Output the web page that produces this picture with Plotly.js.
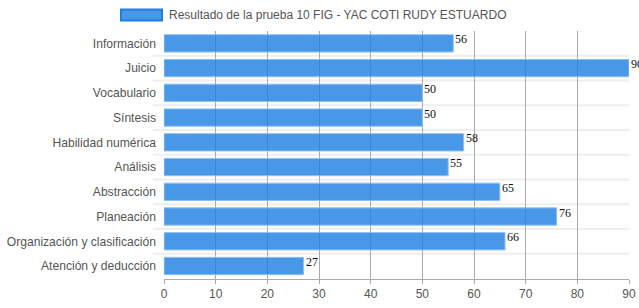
<!DOCTYPE html>
<html><head><meta charset="utf-8">
<script src="https://cdn.plot.ly/plotly-3.0.1.min.js"></script>
<style>html,body{margin:0;padding:0;background:#fff}#c{width:639px;height:308px}</style>
</head><body><div id="c"></div>
<script>
const categories = ["Información","Juicio","Vocabulario","Síntesis","Habilidad numérica","Análisis","Abstracción","Planeación","Organización y clasificación","Atención y deducción"];
const values = [56,90,50,50,58,55,65,76,66,27];
const seriesName = "Resultado de la prueba 10 FIG - YAC COTI RUDY ESTUARDO";
const xTicks = [0,10,20,30,40,50,60,70,80,90];

const trace = {
  type: 'bar', orientation: 'h', y: categories, x: values, showlegend: false,
  marker: {color: 'rgba(28,126,226,0.8)', line: {color: 'rgba(140,193,242,1)', width: 1}},
  hoverinfo: 'none'
};

const shapes = [];
for (let i = 0; i < categories.length - 1; i++) {
  shapes.push({type:'line', xref:'paper', yref:'y', x0:-0.024, x1:1, y0:i+0.5, y1:i+0.5,
    line:{color:'#eeeeee', width:2}, layer:'below'});
}
shapes.push({type:'rect', xref:'paper', yref:'paper',
  x0:(121-164)/465, x1:(162-164)/465,
  y0:(279.5-20)/249, y1:(279.5-9)/249,
  fillcolor:'rgba(28,126,226,0.8)', line:{color:'#1e7fe0', width:2}});

const annotations = values.map((v,i)=>({
  x: v, y: categories[i], xref:'x', yref:'y', text: String(v), showarrow:false,
  xanchor:'left', yanchor:'middle', xshift:0, yshift:4,
  font:{family:'"Liberation Serif", "Times New Roman", serif', size:12, color:'#111'}
}));
annotations.push({xref:'paper', yref:'paper', x:(167-164)/465, y:(279.5-14.5)/249, xanchor:'left', yanchor:'middle',
  text: seriesName, showarrow:false, font:{family:'"Liberation Sans", Arial, sans-serif', size:12, color:'#555'}});

const layout = {
  width:639, height:308,
  margin:{l:164, r:10, t:30.5, b:28.5},
  paper_bgcolor:'#fff', plot_bgcolor:'rgba(0,0,0,0)',
  bargap:0.3,
  xaxis:{range:[0,90], tickvals:xTicks, ticktext:xTicks.map(String), showgrid:true, gridcolor:'#aaaaaa', gridwidth:1,
    zeroline:false, showline:true, linecolor:'#aaaaaa', ticks:'outside', ticklen:4, tickcolor:'#aaaaaa',
    tickfont:{family:'"Liberation Sans", Arial, sans-serif', size:12, color:'#555'}, fixedrange:true, layer:'above traces'},
  yaxis:{autorange:'reversed', showgrid:false, zeroline:false, showline:false, ticks:'', ticklen:0, ticklabelstandoff:7,
    tickfont:{family:'"Liberation Sans", Arial, sans-serif', size:12.1, color:'#555'}, automargin:false, fixedrange:true},
  shapes: shapes, annotations: annotations, showlegend:false
};
Plotly.newPlot('c', [trace], layout, {displayModeBar:false, staticPlot:true});
</script></body></html>
